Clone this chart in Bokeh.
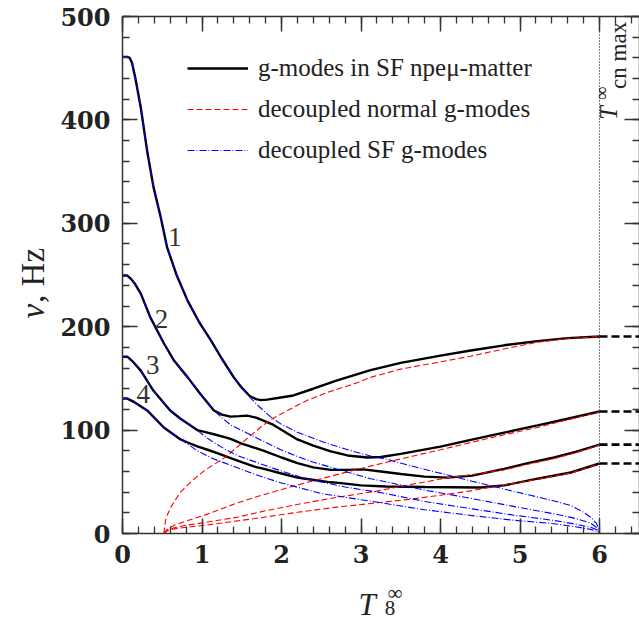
import math
from bokeh.plotting import figure
from bokeh.models import (LinearAxis, Range1d, Label, Legend, LegendItem,
                          SingleIntervalTicker, CustomJSTickFormatter)
from bokeh.embed import file_html
from bokeh.resources import INLINE
from bokeh.core.properties import value

# ---------------- data ----------------
# g-modes in SF npe-mu matter (black solid)
g1_T = [0, 0.06, 0.09, 0.12, 0.16, 0.23, 0.31, 0.39, 0.48, 0.56, 0.68, 0.82, 0.96, 1.11, 1.25, 1.40, 1.50, 1.60, 1.68, 1.74, 1.82, 1.95, 2.15, 2.40, 2.70, 3.12, 3.50, 4.00, 4.38, 4.80, 5.22, 5.60, 6.00]
g1_nu = [461, 461, 460, 455, 441, 412, 370, 335, 306, 277, 250, 225, 205, 187, 169, 151, 141, 133, 130, 129, 129.5, 131, 133.5, 140, 148, 158, 165, 172, 177, 182, 186, 189, 190.5]
g2_T = [0, 0.06, 0.11, 0.16, 0.23, 0.35, 0.52, 0.65, 0.82, 0.98, 1.15, 1.25, 1.36, 1.47, 1.57, 1.68, 1.78, 1.90, 2.07, 2.20, 2.40, 2.62, 2.83, 3.08, 3.25, 3.50, 4.00, 4.38, 4.80, 5.22, 5.60, 6.00]
g2_nu = [249.5, 249.5, 246, 241, 232, 209, 184, 167, 151, 135, 119, 115, 113, 113.5, 114, 112, 109, 105, 97, 91, 85, 79.5, 75.5, 73.5, 74, 77, 84, 90.5, 97.5, 104.5, 111, 118]
g3_T = [0, 0.06, 0.12, 0.23, 0.39, 0.60, 0.73, 0.94, 1.07, 1.15, 1.25, 1.36, 1.50, 1.78, 2.00, 2.20, 2.40, 2.62, 2.83, 3.03, 3.25, 3.50, 3.80, 4.09, 4.40, 4.80, 5.10, 5.43, 5.70, 6.00]
g3_nu = [171, 171, 167, 157.5, 138, 119, 111, 100, 97.5, 96, 94, 91.5, 87, 80, 73.5, 68, 64, 61.5, 61.5, 62, 60, 57.5, 55, 54, 56, 62.5, 68, 73.5, 79, 86]
g4_T = [0, 0.06, 0.15, 0.31, 0.52, 0.73, 0.82, 0.95, 1.07, 1.20, 1.36, 1.50, 1.67, 1.78, 2.00, 2.20, 2.30, 2.62, 2.72, 3.00, 3.31, 3.80, 4.50, 4.80, 5.22, 5.64, 6.00]
g4_nu = [130.5, 130.5, 127, 119, 102.5, 91, 88, 84, 81, 77.5, 73, 69, 64.5, 62.5, 58, 54, 53, 49.5, 49, 46.5, 45.5, 45, 44.5, 46.5, 53, 59, 67.7]

# decoupled normal g-modes (red dashed)
n1_T = [0.52, 0.53, 0.54, 0.57, 0.62, 0.67, 0.73, 0.82, 0.92, 1.05, 1.26, 1.42, 1.60, 1.74, 1.86, 2.10, 2.33, 2.60, 2.96, 3.12, 3.50, 4.00, 4.38, 4.80, 5.22, 5.60, 6.00]
n1_nu = [0, 6, 12.5, 19, 27, 33, 40, 47, 54, 62, 72, 82, 94, 103, 110, 120, 129, 137, 146, 151, 159, 166, 171.5, 178.5, 185, 188.5, 190.5]
n2_T = [0.52, 0.56, 0.65, 0.80, 1.04, 1.25, 1.46, 1.75, 2.09, 2.50, 2.90, 3.31, 3.66, 4.00, 4.38, 4.80, 5.22, 5.60, 6.00]
n2_nu = [0, 4, 8, 12, 18, 24, 30, 37, 44.5, 53, 61, 68.7, 75, 81, 88, 95.5, 102.5, 110, 117.5]
n3_T = [0.52, 0.56, 0.65, 0.80, 1.04, 1.46, 1.80, 2.26, 2.70, 3.20, 3.60, 4.10, 4.40, 4.80, 5.10, 5.43, 5.70, 6.00]
n3_nu = [0, 3, 5.5, 8, 10.6, 16, 22, 29, 35, 41, 47, 54, 57, 61.5, 67, 72.5, 78, 85.5]
n4_T = [0.52, 0.56, 0.65, 0.80, 1.04, 1.67, 2.20, 2.70, 3.12, 3.60, 4.00, 4.40, 4.72, 5.00, 5.22, 5.64, 6.00]
n4_nu = [0, 2.5, 4.5, 6, 8, 14.5, 20.5, 25.5, 29, 33, 37, 41.5, 46, 49.5, 52.5, 58.5, 67.5]

# decoupled SF g-modes (blue dash-dot)
sf1_T = [0, 0.06, 0.09, 0.12, 0.16, 0.23, 0.31, 0.39, 0.48, 0.56, 0.68, 0.82, 0.96, 1.11, 1.25, 1.40, 1.50, 1.60, 1.70, 1.86, 1.99, 2.20, 2.47, 2.58, 2.90, 3.12, 3.31, 3.60, 3.96, 4.40, 4.80, 5.10, 5.43, 5.64, 5.80, 5.90, 5.96, 5.99, 6.00]
sf1_nu = [461, 461, 460, 455, 441, 412, 370, 335, 306, 277, 250, 225, 205, 187, 169, 151, 141, 132, 124, 113, 106, 98, 90, 87, 79.5, 75, 72, 66, 59, 50.5, 43, 37.5, 31.5, 27, 20.5, 15, 10, 5, 0]
sf2_T = [0, 0.06, 0.11, 0.16, 0.23, 0.35, 0.52, 0.65, 0.82, 0.98, 1.15, 1.25, 1.36, 1.57, 1.67, 1.99, 2.20, 2.40, 2.80, 3.12, 3.31, 3.80, 4.38, 4.90, 5.43, 5.70, 5.89, 5.96, 6.00]
sf2_nu = [249.5, 249.5, 246, 241, 232, 209, 184, 167, 151, 135, 119, 112, 105, 97, 93, 81, 74.5, 69, 60, 53, 50, 42, 34, 26.5, 19, 14.5, 10, 6, 0]
sf3_T = [0, 0.06, 0.12, 0.23, 0.39, 0.60, 0.73, 0.94, 1.05, 1.15, 1.30, 1.46, 1.57, 1.90, 2.30, 2.80, 3.31, 3.80, 4.38, 4.90, 5.43, 5.70, 5.89, 5.97, 6.00]
sf3_nu = [171, 171, 167, 157.5, 138, 119, 111, 100, 93, 88, 81, 75, 72, 63, 53, 45, 38.7, 31, 24, 18, 12.6, 9, 6, 3.5, 0]
sf4_T = [0, 0.06, 0.15, 0.31, 0.52, 0.73, 0.83, 0.94, 1.15, 1.36, 1.67, 1.99, 2.51, 3.31, 3.80, 4.38, 4.90, 5.43, 5.70, 5.89, 5.97, 6.00]
sf4_nu = [130.5, 130.5, 127, 119, 102.5, 91, 86, 80, 72, 66, 57, 49, 38.5, 29, 23, 17.5, 13, 9.5, 6.5, 4, 2, 0]

T_cn_max = 6.0
x_min, x_max = 0.0, 6.5
y_min, y_max = 0.0, 500.0

mode_numbers = ["1", "2", "3", "4"]
mode_num_T = [0.66, 0.49, 0.38, 0.26]
mode_num_nu = [287, 207.5, 162.5, 135]

legend_labels = ["g-modes in SF npeμ-matter", "decoupled normal g-modes", "decoupled SF g-modes"]

# ---------------- layout constants ----------------
W, H = 639, 618              # canvas = frame (axes are drawn at fixed places)
AX_LEFT, AX_BOTTOM = 122, 533  # pixel position of the axes box
PX_PER_T, PX_PER_NU = 79.5, 1.034
vx0 = x_min - AX_LEFT / PX_PER_T
vx1 = vx0 + W / PX_PER_T
vy0 = y_min - (H - AX_BOTTOM) / PX_PER_NU
vy1 = vy0 + H / PX_PER_NU

SERIF = "Liberation Serif"
TICKFONT = "DejaVu Serif"
TXT = "#222222"

p = figure(frame_width=W, frame_height=H,
           x_range=Range1d(vx0, vx1), y_range=Range1d(vy0, vy1),
           x_axis_location=None, y_axis_location=None,
           output_backend="svg", toolbar_location=None,
           min_border=0, min_border_left=0, min_border_right=0,
           min_border_top=0, min_border_bottom=0,
           background_fill_color="white", border_fill_color="white")
p.outline_line_color = None
p.xgrid.visible = False
p.ygrid.visible = False

ax_b = LinearAxis(fixed_location=y_min, bounds=(x_min, x_max))
ax_t = LinearAxis(fixed_location=y_max, bounds=(x_min, x_max))
ax_l = LinearAxis(fixed_location=x_min, bounds=(y_min, y_max))
ax_r = LinearAxis(fixed_location=x_max, bounds=(y_min, y_max))
p.add_layout(ax_b, "below")
p.add_layout(ax_t, "above")
p.add_layout(ax_l, "left")
p.add_layout(ax_r, "right")

for ax in (ax_b, ax_t):
    ax.ticker = SingleIntervalTicker(interval=1, num_minor_ticks=5)
for ax in (ax_l, ax_r):
    ax.ticker = SingleIntervalTicker(interval=100, num_minor_ticks=5)

for ax in (ax_b, ax_t, ax_l, ax_r):
    ax.axis_line_color = "#333333"
    ax.axis_line_width = 1.5
    ax.major_tick_line_color = "#333333"
    ax.minor_tick_line_color = "#333333"
    ax.major_tick_line_width = 1.5
    ax.minor_tick_line_width = 1.3
    ax.major_tick_in = 15
    ax.major_tick_out = 0
    ax.minor_tick_in = 7
    ax.minor_tick_out = 0
    ax.major_label_text_font = TICKFONT
    ax.major_label_text_font_style = "bold"
    ax.major_label_text_font_size = "24px"
    ax.major_label_text_color = TXT

ax_b.major_label_standoff = 11
ax_l.major_label_standoff = 12

for ax in (ax_t, ax_r):
    ax.formatter = CustomJSTickFormatter(code="return ''")
    ax.major_label_text_font_size = "0px"
    ax.major_label_standoff = 0

# ---------------- curves ----------------
p.segment(x0=[T_cn_max], x1=[T_cn_max], y0=[y_min], y1=[y_max],
          line_color="black", line_width=1.0, line_dash="1 2")

r_g = None
for T, nu in [(g1_T, g1_nu), (g2_T, g2_nu), (g3_T, g3_nu), (g4_T, g4_nu)]:
    r = p.line(T, nu, line_color="black", line_width=2.4)
    r_g = r_g or r

r_n = None
for T, nu in [(n1_T, n1_nu), (n2_T, n2_nu), (n3_T, n3_nu), (n4_T, n4_nu)]:
    r = p.line(T, nu, line_color="#ff0000", line_width=1.1, line_dash="6 3")
    r_n = r_n or r

r_s = None
for T, nu in [(sf1_T, sf1_nu), (sf2_T, sf2_nu), (sf3_T, sf3_nu), (sf4_T, sf4_nu)]:
    r = p.line(T, nu, line_color="#0000ff", line_width=1.1, line_dash="7 2 1 2")
    r_s = r_s or r

ends = [g1_nu[-1], g2_nu[-1], g3_nu[-1], g4_nu[-1]]
p.segment(x0=[T_cn_max] * 4, x1=[x_max] * 4, y0=ends, y1=ends,
          line_color="black", line_width=2.6, line_dash="8 4")

p.text(x=mode_num_T, y=mode_num_nu, text=mode_numbers,
       text_font=value(SERIF), text_font_size="27px", text_color="#333333",
       text_align="center", text_baseline="middle")

legend = Legend(items=[LegendItem(label=legend_labels[0], renderers=[r_g]),
                       LegendItem(label=legend_labels[1], renderers=[r_n]),
                       LegendItem(label=legend_labels[2], renderers=[r_s])],
                location=(187, 453), orientation="vertical",
                glyph_width=61, glyph_height=30, label_height=30,
                label_standoff=10, spacing=11, padding=0, margin=0,
                border_line_color=None, background_fill_alpha=0,
                label_text_font=SERIF, label_text_font_size="25px",
                label_text_color=TXT, label_text_baseline="middle")
p.add_layout(legend, "center")

# ---------------- texts ----------------
def lab(x, y, text, size, style="normal", angle=0.0):
    p.add_layout(Label(x=x, y=y, text=text, x_units="data", y_units="data",
                       angle=angle, text_font=SERIF, text_font_size=size,
                       text_font_style=style, text_color=TXT,
                       text_align="left", text_baseline="alphabetic"))

# x title: T_8^inf
lab(2.969, -68.7, "T", "31px", "italic")
lab(3.333, -58.0, "∞", "21px")
lab(3.300, -72.0, "8", "21px")

# y title: nu, Hz (rotated)
lab(-1.12, 208, "ν", "33px", "italic", angle=math.pi / 2)
lab(-1.12, 223, ", Hz", "33px", angle=math.pi / 2)

# T^inf_{cn max} (rotated, inside the axes box)
lab(6.113, 400, "T", "25px", "italic", angle=math.pi / 2)
lab(6.025, 419, "∞", "19px", angle=math.pi / 2)
lab(6.239, 430, "cn max", "23px", angle=math.pi / 2)

open("out.html", "w").write(file_html(p, INLINE))
